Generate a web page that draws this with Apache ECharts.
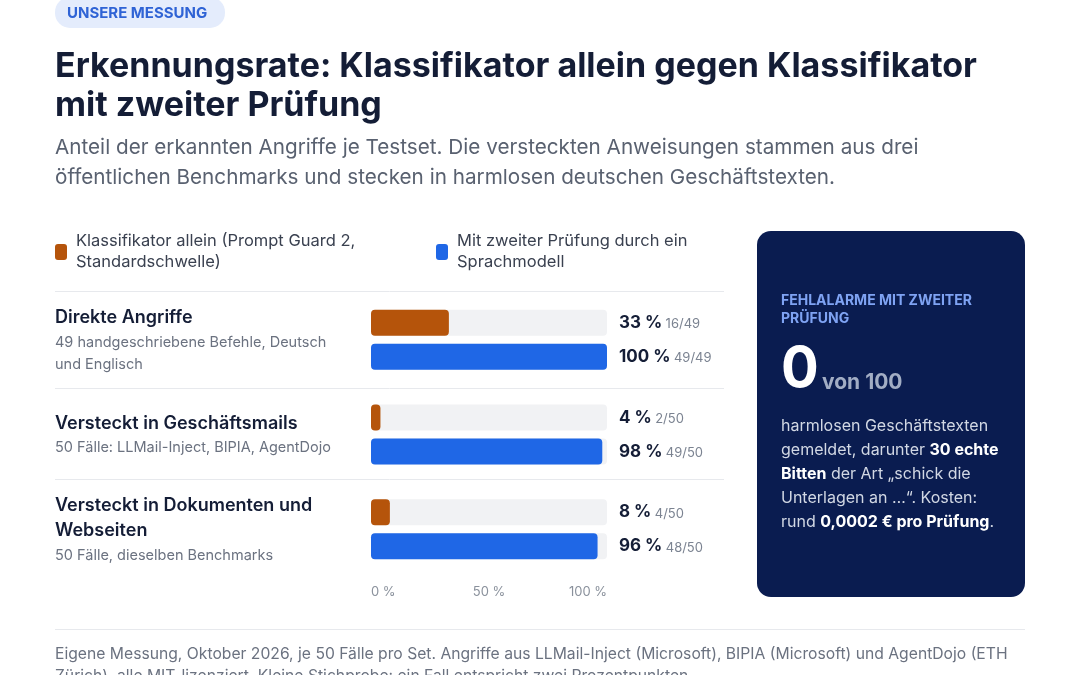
<!DOCTYPE html>
<html>
<head>
<meta charset="utf-8">
<script src="https://cdn.jsdelivr.net/npm/echarts@6/dist/echarts.min.js"></script>
<style>
  html, body { margin: 0; padding: 0; background: #ffffff; }
  #chart { width: 1080px; height: 675px; }
</style>
</head>
<body>
<div id="chart"></div>
<script>
// Testsets (rows) and what the two setups caught
const testsets = ['Direkte Angriffe', 'Versteckt in Geschäftsmails', 'Versteckt in Dokumenten und Webseiten'];
const testsetNotes = ['49 handgeschriebene Befehle, Deutsch\nund Englisch', '50 Fälle: LLMail-Inject, BIPIA, AgentDojo', '50 Fälle, dieselben Benchmarks'];
const classifierPct = [33, 4, 8];
const classifierHits = ['16/49', '2/50', '4/50'];
const reviewPct = [100, 98, 96];
const reviewHits = ['49/49', '49/50', '48/50'];
const axisTicks = [0, 50, 100];

const FONT = 'Inter, "Noto Sans", sans-serif';
const ORANGE = '#b5540b';
const BLUE = '#1f67e6';
const INK = '#141d36';

const chart = echarts.init(document.getElementById('chart'));

// label text for the first column, title wrapped by hand
const rowLabels = {
  'Direkte Angriffe': '{t|Direkte Angriffe}\n{s|' + testsetNotes[0].split('\n').join('}\n{s|') + '}',
  'Versteckt in Geschäftsmails': '{t|Versteckt in Geschäftsmails}\n{s|' + testsetNotes[1] + '}',
  'Versteckt in Dokumenten und Webseiten': '{t|Versteckt in Dokumenten und}\n{t|Webseiten}\n{s|' + testsetNotes[2] + '}'
};

function valueLabel(pct, hits) {
  return function (p) {
    return '{v|' + pct[p.dataIndex] + ' %} {f|' + hits[p.dataIndex] + '}';
  };
}

const valueRich = {
  v: { fontFamily: FONT, fontSize: 17, fontWeight: 700, color: INK },
  f: { fontFamily: FONT, fontSize: 13, color: '#7b8391', padding: [3, 0, 0, 0] }
};

const legendNames = {
  'Klassifikator allein': 'Klassifikator allein (Prompt Guard 2,\nStandardschwelle)',
  'Mit zweiter Prüfung': 'Mit zweiter Prüfung durch ein\nSprachmodell'
};

const option = {
  backgroundColor: '#ffffff',
  animation: false,
  textStyle: { fontFamily: FONT },
  legend: {
    data: ['Klassifikator allein', 'Mit zweiter Prüfung'],
    left: 55,
    top: 231,
    padding: 0,
    icon: 'roundRect',
    itemWidth: 12,
    itemHeight: 16,
    itemGap: 10,
    selectedMode: false,
    formatter: function (name) { return legendNames[name]; },
    textStyle: {
      fontFamily: FONT, fontSize: 16.5, color: '#3a4150',
      lineHeight: 21, width: 350, padding: [0, 0, 0, 4]
    }
  },
  grid: { left: 371, right: 473, top: 292.5, height: 284, containLabel: false },
  xAxis: {
    type: 'value',
    min: 0,
    max: 100,
    interval: 50,
    axisLine: { show: false },
    axisTick: { show: false },
    splitLine: { show: false },
    axisLabel: {
      margin: 9,
      color: '#8a919c',
      fontSize: 13,
      fontFamily: FONT,
      alignMinLabel: 'left',
      alignMaxLabel: 'right',
      formatter: function (v) { return axisTicks.indexOf(v) >= 0 ? v + ' %' : ''; }
    }
  },
  yAxis: {
    type: 'category',
    inverse: true,
    data: testsets,
    axisLine: { show: false },
    axisTick: { show: false },
    axisLabel: {
      align: 'left',
      margin: 316,
      verticalAlign: 'middle',
      formatter: function (v) { return rowLabels[v]; },
      rich: {
        t: { fontFamily: FONT, fontSize: 18, fontWeight: 600, color: INK, lineHeight: 25 },
        s: { fontFamily: FONT, fontSize: 14.5, color: '#6b7280', lineHeight: 22, padding: [2, 0, 0, 0] }
      }
    }
  },
  series: [
    {
      name: 'Klassifikator allein',
      type: 'bar',
      stack: 'clf',
      data: classifierPct,
      barWidth: 26,
      barGap: '31%',
      itemStyle: { color: ORANGE, borderRadius: 4 },
      showBackground: true,
      backgroundStyle: { color: '#f1f2f4', borderRadius: 4 }
    },
    {
      name: 'clf-rest',
      type: 'bar',
      stack: 'clf',
      data: classifierPct.map(function (v) { return 100 - v; }),
      barWidth: 26,
      barGap: '31%',
      itemStyle: { color: 'rgba(0,0,0,0)' },
      label: { show: true, position: 'right', distance: 12, formatter: valueLabel(classifierPct, classifierHits), rich: valueRich },
      silent: true
    },
    {
      name: 'Mit zweiter Prüfung',
      type: 'bar',
      stack: 'rev',
      data: reviewPct,
      barWidth: 26,
      barGap: '31%',
      itemStyle: { color: BLUE, borderRadius: 4 },
      showBackground: true,
      backgroundStyle: { color: '#f1f2f4', borderRadius: 4 }
    },
    {
      name: 'rev-rest',
      type: 'bar',
      stack: 'rev',
      data: reviewPct.map(function (v) { return 100 - v; }),
      barWidth: 26,
      barGap: '31%',
      itemStyle: { color: 'rgba(0,0,0,0)' },
      label: { show: true, position: 'right', distance: 12, formatter: valueLabel(reviewPct, reviewHits), rich: valueRich },
      silent: true
    }
  ],
  graphic: [
    // badge
    { type: 'rect', left: 55, top: -3, shape: { width: 170, height: 31, r: 15 }, style: { fill: '#e4ecfc' } },
    { type: 'text', left: 67, top: 6, style: { text: 'UNSERE MESSUNG', font: '700 15px ' + FONT, fill: '#2f63d5' } },
    // title + subtitle
    { type: 'text', left: 55, top: 47, style: {
      text: 'Erkennungsrate: Klassifikator allein gegen Klassifikator\nmit zweiter Prüfung',
      font: '700 34px ' + FONT, fill: INK, lineHeight: 39 } },
    { type: 'text', left: 55, top: 133, style: {
      text: 'Anteil der erkannten Angriffe je Testset. Die versteckten Anweisungen stammen aus drei\nöffentlichen Benchmarks und stecken in harmlosen deutschen Geschäftstexten.',
      font: '400 20.7px ' + FONT, fill: '#596170', lineHeight: 30 } },
    // row separators
    { type: 'line', shape: { x1: 55, y1: 291.5, x2: 724, y2: 291.5 }, style: { stroke: '#e7e9ed', lineWidth: 1 } },
    { type: 'line', shape: { x1: 55, y1: 388.5, x2: 724, y2: 388.5 }, style: { stroke: '#e7e9ed', lineWidth: 1 } },
    { type: 'line', shape: { x1: 55, y1: 479.5, x2: 724, y2: 479.5 }, style: { stroke: '#e7e9ed', lineWidth: 1 } },
    // side card
    { type: 'rect', left: 757, top: 231, shape: { width: 268, height: 366, r: 14 }, style: { fill: '#0a1c50' } },
    { type: 'text', left: 781, top: 292, style: {
      text: 'FEHLALARME MIT ZWEITER\nPRÜFUNG', font: '700 14px ' + FONT, fill: '#7fa3f3', lineHeight: 18 } },
    { type: 'text', left: 781, top: 342, style: { text: '0', font: '700 56px ' + FONT, fill: '#ffffff' } },
    { type: 'text', left: 822, top: 372, style: { text: 'von 100', font: '700 21px ' + FONT, fill: '#a2adc4' } },
    { type: 'text', left: 781, top: 418, style: {
      text: '{r|harmlosen Geschäftstexten}\n{r|gemeldet, darunter }{b|30 echte}\n{b|Bitten}{r| der Art „schick die}\n{r|Unterlagen an …“. Kosten:}\n{r|rund }{b|0,0002 € pro Prüfung}{r|.}',
      rich: {
        r: { fontFamily: FONT, fontSize: 16, fill: '#d2d8e4', lineHeight: 24 },
        b: { fontFamily: FONT, fontSize: 16, fontWeight: 700, fill: '#ffffff', lineHeight: 24 }
      } } },
    // footer
    { type: 'line', shape: { x1: 55, y1: 629.5, x2: 1025, y2: 629.5 }, style: { stroke: '#e7e9ed', lineWidth: 1 } },
    { type: 'text', left: 55, top: 643, style: {
      text: 'Eigene Messung, Oktober 2026, je 50 Fälle pro Set. Angriffe aus LLMail-Inject (Microsoft), BIPIA (Microsoft) und AgentDojo (ETH\nZürich), alle MIT-lizenziert. Kleine Stichprobe: ein Fall entspricht zwei Prozentpunkten.',
      font: '400 15.7px ' + FONT, fill: '#6b7280', lineHeight: 22 } }
  ]
};

chart.setOption(option);
</script>
</body>
</html>
